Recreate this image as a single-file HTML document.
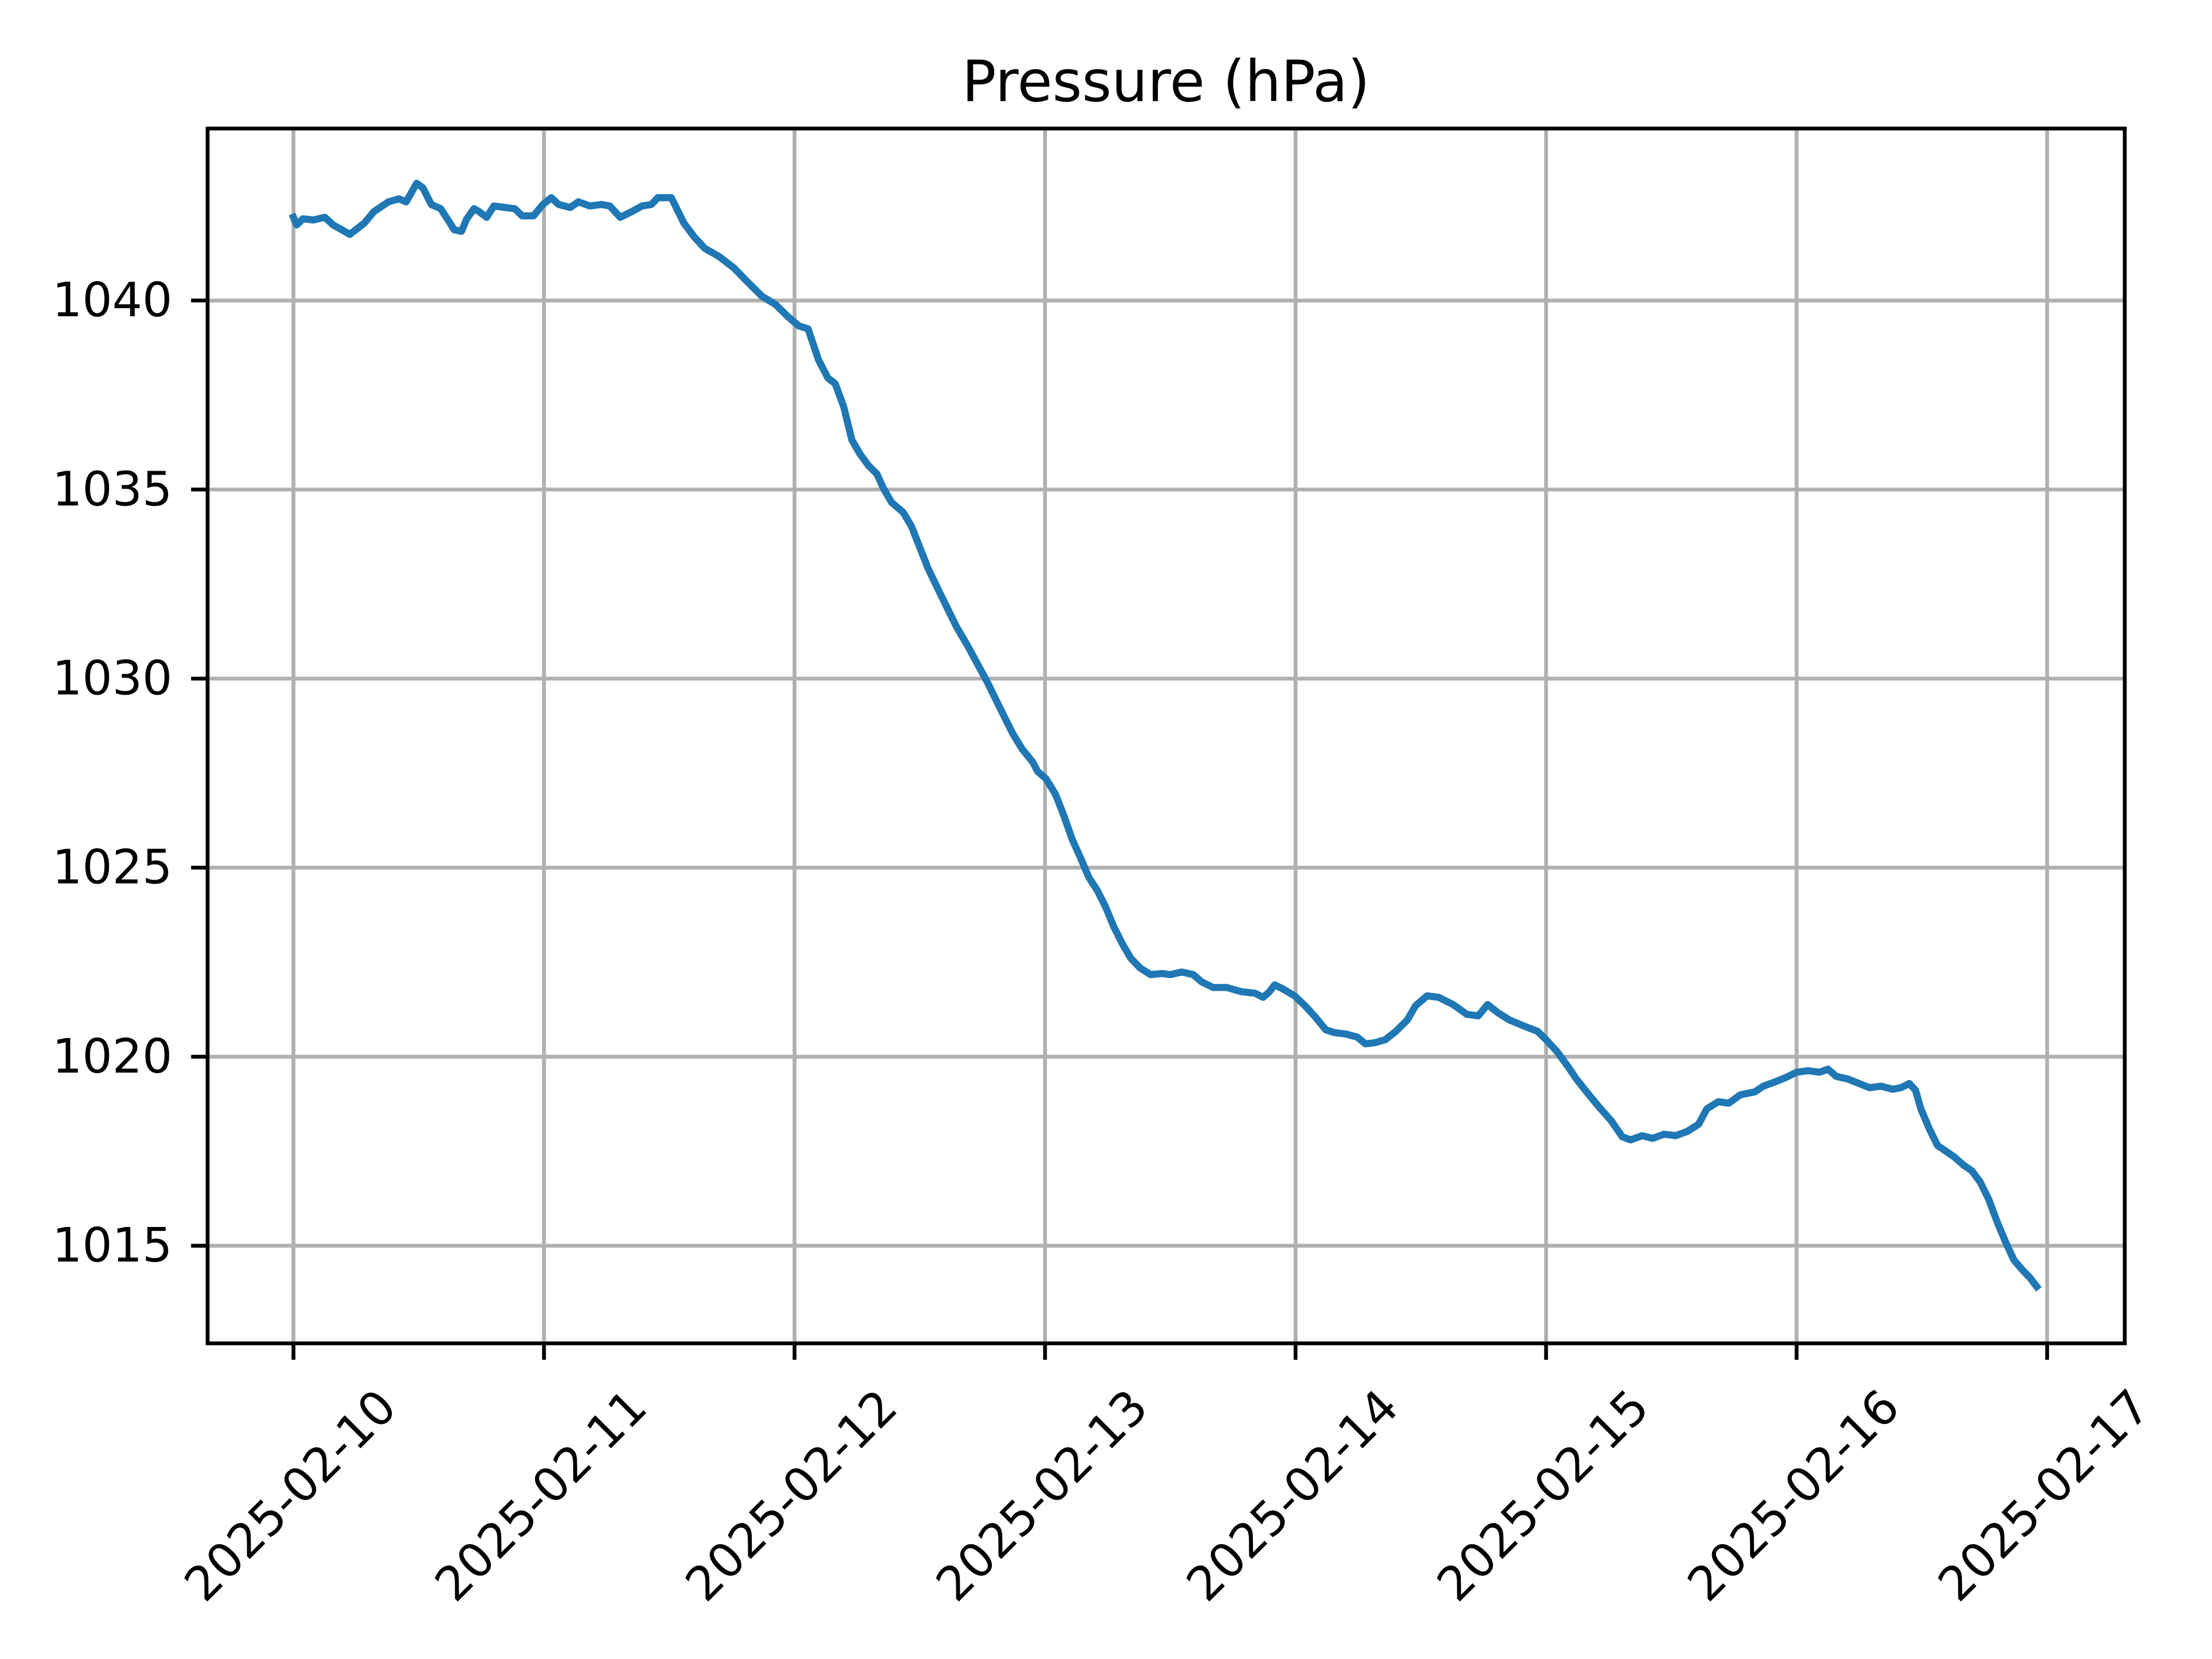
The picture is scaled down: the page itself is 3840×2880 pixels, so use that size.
<!DOCTYPE html>
<html><head><meta charset="utf-8"><style>
html,body{margin:0;padding:0;background:#fff}
svg{display:block}
text{font-family:"DejaVu Sans","Liberation Sans",sans-serif;fill:#000}
</style></head><body>
<svg id="chart" xmlns="http://www.w3.org/2000/svg" width="3840" height="2880" viewBox="0 0 3840 2880">
<rect x="0" y="0" width="3840" height="2880" fill="#fff"/>
<g transform="scale(0.9873)">
<text x="2050" y="178" font-size="100" text-anchor="middle">Pressure (hPa)</text>
<g id="grid"></g>
<g id="series"></g>
<rect x="365" y="226" width="3371" height="2136" fill="none" stroke="#000" stroke-width="6.7"/>
<g id="axes"></g>
</g>
</svg>
<script>
const hours = [0,0.3,0.9,1.9,3.0,3.8,5.4,6.8,7.7,9.1,10.1,10.8,11.8,12.4,13.2,14.1,14.9,15.4,16.1,16.6,17.3,17.8,18.5,19.2,20.3,21.2,21.9,23.0,23.9,24.7,25.4,26.5,27.3,28.4,29.5,30.3,31.3,32.4,33.4,34.3,34.9,36.2,37.4,38.4,39.4,40.8,42.2,43.5,44.9,46.2,47.3,48.4,49.3,50.3,51.2,51.9,52.7,53.5,54.3,55.1,55.9,56.5,57.3,58.4,59.2,60.0,60.8,61.9,62.7,63.5,64.6,65.7,66.5,67.3,68.1,68.9,69.8,70.8,71.3,72.1,73.0,73.8,74.6,75.4,76.2,77.0,77.8,78.6,79.4,80.2,81.1,82.1,83.2,84.0,85.1,86.2,87.0,88.1,89.4,90.8,92.1,92.9,93.5,94.0,94.8,95.9,96.9,97.8,98.9,99.7,100.8,101.9,102.7,103.6,104.6,105.6,106.7,107.5,108.6,109.7,111.1,112.4,113.5,114.4,115.4,116.5,117.8,119.2,120.0,121.0,122.1,122.9,124.0,125.1,126.2,127.3,128.1,129.2,130.2,131.3,132.4,133.5,134.6,135.4,136.5,137.5,138.6,140.0,140.8,141.9,142.9,144.0,145.1,146.2,147.0,147.8,148.9,150.0,151.0,152.1,153.2,154.0,154.8,155.4,155.9,156.7,157.5,158.3,159.1,160.0,160.8,161.6,162.4,163.2,164.0,164.8,165.6,166.4,167.0];
const pressure = [1042.2,1042.0,1042.16,1042.13,1042.2,1042.0,1041.75,1042.05,1042.35,1042.61,1042.69,1042.61,1043.10,1042.98,1042.54,1042.43,1042.09,1041.87,1041.83,1042.16,1042.43,1042.35,1042.20,1042.50,1042.46,1042.43,1042.24,1042.24,1042.54,1042.72,1042.54,1042.46,1042.61,1042.50,1042.54,1042.50,1042.20,1042.35,1042.50,1042.54,1042.72,1042.72,1042.05,1041.68,1041.38,1041.16,1040.86,1040.49,1040.11,1039.89,1039.59,1039.33,1039.25,1038.43,1037.95,1037.80,1037.20,1036.31,1035.93,1035.63,1035.41,1035.04,1034.66,1034.40,1034.03,1033.47,1032.91,1032.28,1031.83,1031.38,1030.86,1030.30,1029.89,1029.44,1028.99,1028.55,1028.14,1027.80,1027.54,1027.35,1026.94,1026.38,1025.75,1025.26,1024.74,1024.40,1023.96,1023.43,1022.99,1022.61,1022.35,1022.17,1022.20,1022.17,1022.24,1022.17,1021.98,1021.83,1021.83,1021.72,1021.68,1021.57,1021.72,1021.90,1021.79,1021.61,1021.35,1021.08,1020.71,1020.64,1020.60,1020.52,1020.34,1020.37,1020.45,1020.67,1020.97,1021.35,1021.61,1021.57,1021.38,1021.12,1021.08,1021.38,1021.16,1020.97,1020.82,1020.67,1020.45,1020.15,1019.74,1019.41,1019.03,1018.66,1018.32,1017.88,1017.80,1017.91,1017.84,1017.95,1017.91,1018.02,1018.21,1018.62,1018.81,1018.77,1018.99,1019.07,1019.22,1019.33,1019.44,1019.59,1019.63,1019.59,1019.67,1019.48,1019.41,1019.29,1019.18,1019.22,1019.14,1019.18,1019.29,1019.11,1018.62,1018.10,1017.65,1017.50,1017.35,1017.13,1016.98,1016.68,1016.23,1015.64,1015.11,1014.63,1014.37,1014.14,1013.92];
const xTickLabels = ["2025-02-10","2025-02-11","2025-02-12","2025-02-13","2025-02-14","2025-02-15","2025-02-16","2025-02-17"];
const yTicks = [1015,1020,1025,1030,1035,1040];

const NS = "http://www.w3.org/2000/svg";
function xScale(h){ return 516 + h/24*440.5; }
function yScale(v){ return 528.4 + (1040 - v)*66.48; }
const grid = document.getElementById('grid');
const axes = document.getElementById('axes');
const series = document.getElementById('series');
function mk(tag, attrs){ const e=document.createElementNS(NS,tag); for(const k in attrs) e.setAttribute(k,attrs[k]); return e; }

xTickLabels.forEach((lab,i)=>{
  const x = xScale(i*24);
  const g = mk('line',{x1:x,y1:226,x2:x,y2:2362,stroke:'#b0b0b0','stroke-width':6.7});
  
  
  grid.appendChild(g);
  const t = mk('line',{x1:x,y1:2362,x2:x,y2:2391,stroke:'#000','stroke-width':6.7});
  
  
  axes.appendChild(t);
  const tx = mk('text',{x:0,y:0,'font-size':83,'text-anchor':'middle','dominant-baseline':'central',transform:'translate('+(x-5)+',2630) rotate(-45)'});
  tx.textContent = lab;
  
  
  axes.appendChild(tx);
});
yTicks.forEach(v=>{
  const y = yScale(v);
  const g = mk('line',{x1:365,y1:y,x2:3736,y2:y,stroke:'#b0b0b0','stroke-width':6.7});
  
  
  grid.appendChild(g);
  const t = mk('line',{x1:336,y1:y,x2:365,y2:y,stroke:'#000','stroke-width':6.7});
  
  
  axes.appendChild(t);
  const tx = mk('text',{x:303,y:y,'font-size':83,'text-anchor':'end','dominant-baseline':'central'});
  tx.textContent = String(v);
  
  
  axes.appendChild(tx);
});
const d = hours.map((h,i)=>(i?'L':'M')+xScale(h).toFixed(1)+','+yScale(pressure[i]).toFixed(1)).join(' ');
const line = mk('path',{d:d,fill:'none',stroke:'#1f77b4','stroke-width':12.5,'stroke-linejoin':'round','stroke-linecap':'square'});


series.appendChild(line);
</script>
</body></html>
